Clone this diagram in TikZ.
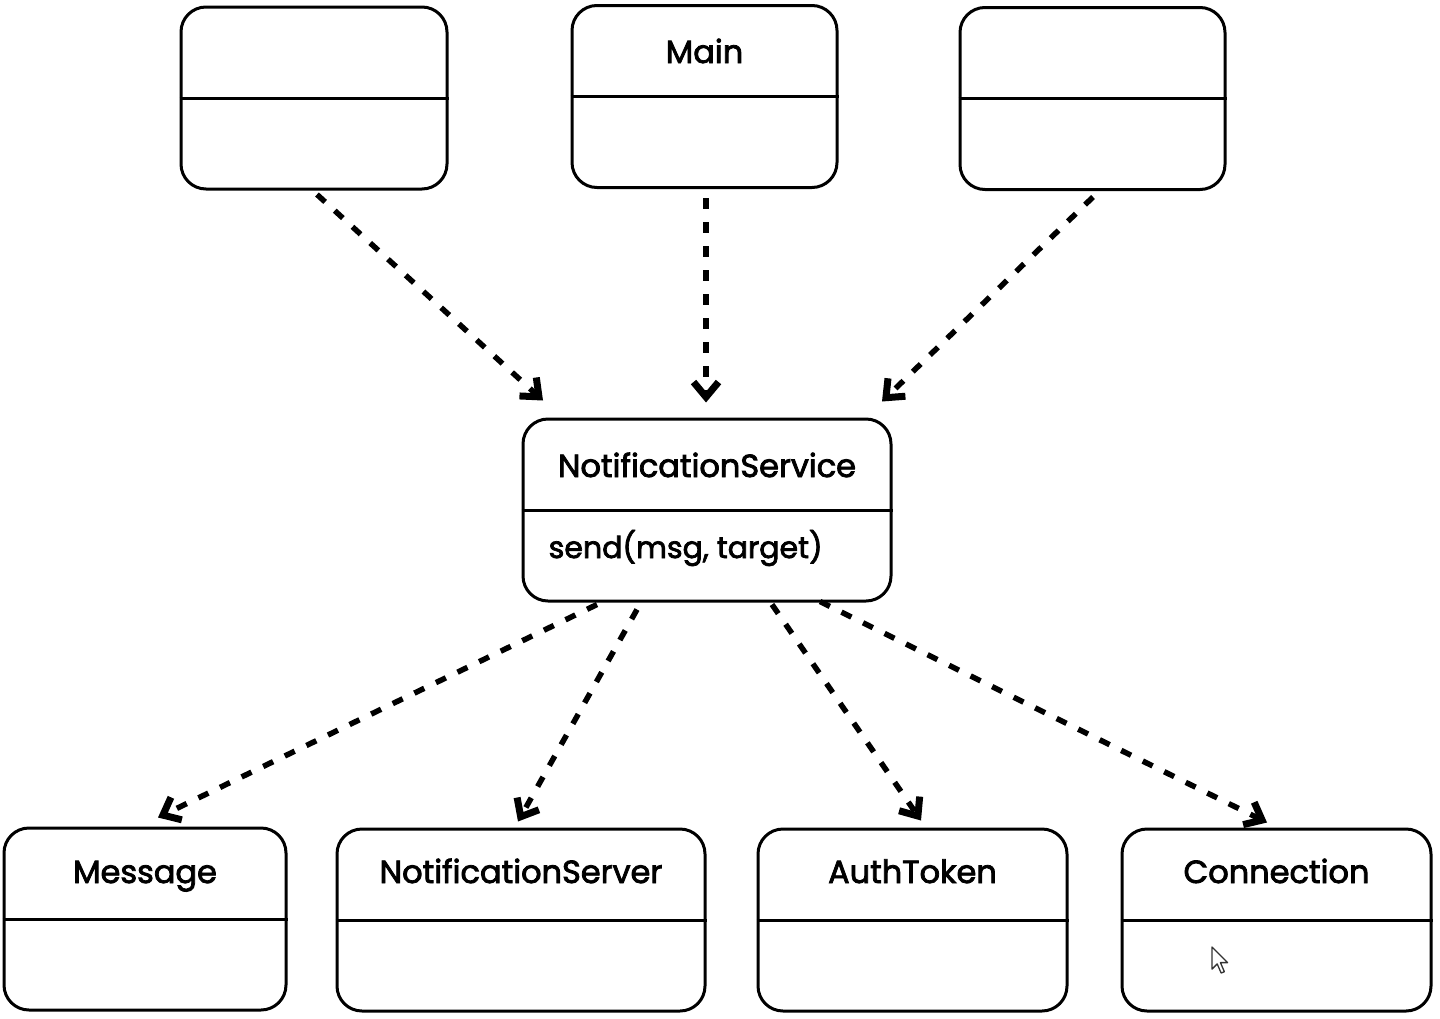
\documentclass[tikz,border=0pt]{standalone}
\usepackage{fontspec}
\setmainfont{Poppins}[UprightFeatures={FakeBold=2.5}]
\usetikzlibrary{arrows.meta,calc}
\begin{document}
\begin{tikzpicture}[x=1pt,y=-1pt,
  cls/.style={draw, line width=3pt, rounded corners=25pt, inner sep=0pt, minimum height=182pt},
  ttl/.style={font=\fontsize{32}{38}\selectfont, inner sep=0pt, anchor=base},
  mth/.style={font=\fontsize{30}{36}\selectfont, inner sep=0pt, anchor=base west},
  dep/.style={line width=5.5pt, dash pattern=on 11pt off 13pt,
    -{Straight Barb[length=15pt,width=25pt,line width=7pt]}},
  divider/.style={line width=3pt}
]
\useasboundingbox (0,0) rectangle (1440,1018);

% boxes
\node[cls, minimum width=266pt] (tl) at (314,98) {};
\node[cls, minimum width=265pt] (mn) at (704.5,96.5) {};
\node[cls, minimum width=265pt] (tr) at (1092.5,98.5) {};
\node[cls, minimum width=368pt] (ns) at (707,510) {};
\node[cls, minimum width=282pt] (msg) at (145,919) {};
\node[cls, minimum width=368pt] (srv) at (521,920) {};
\node[cls, minimum width=309pt] (tok) at (912.5,920) {};
\node[cls, minimum width=309pt] (con) at (1276.5,920) {};

% dividers
\foreach \n in {tl,mn,tr,ns,msg,srv,tok,con}{
  \draw[divider] (\n.west) -- (\n.east);
}

% titles
\node[ttl] (mnt) at ($(mn.center)+(0,-33.5)$) {Main};
\node[ttl] (nst) at ($(ns.center)+(0,-33)$) {NotificationService};
\node[mth] (nsm) at ($(ns.west)+(27,48)$) {send(msg, target)};
\node[ttl] (msgt) at ($(msg.center)+(0,-36)$) {Message};
\node[ttl] (srvt) at ($(srv.center)+(0,-37)$) {NotificationServer};
\node[ttl] (tokt) at ($(tok.center)+(0,-37)$) {AuthToken};
\node[ttl] (cont) at ($(con.center)+(0,-37)$) {Connection};

% dependencies
\draw[dep] ([xshift=3pt,yshift=-4pt]tl.south) -- ([xshift=-164pt,yshift=17pt]ns.north);
\draw[dep] ([xshift=1.5pt,yshift=-9pt]mn.south) -- ([xshift=-1pt,yshift=15pt]ns.north);
\draw[dep] ([xshift=0.5pt,yshift=-6pt]tr.south) -- ([xshift=175pt,yshift=16pt]ns.north);
\draw[dep] ([xshift=-110pt,yshift=-2pt]ns.south) -- ([xshift=13pt,yshift=9pt]msg.north);
\draw[dep] ([xshift=-70pt,yshift=-7pt]ns.south) -- ([xshift=-3pt,yshift=6pt]srv.north);
\draw[dep] ([xshift=65pt,yshift=-2pt]ns.south) -- ([xshift=8.5pt,yshift=7pt]tok.north);
\draw[dep] ([xshift=113pt,yshift=1pt]ns.south) -- ([xshift=-9.5pt,yshift=5pt]con.north);

% mouse pointer
\coordinate (cur) at ($(con.center)+(-64.5,27)$);
\draw[fill=white, draw=black!80, line width=1.3pt, line join=round, shift={(cur)}, scale=1.3]
  (0,0) -- (0,17) -- (4,13) -- (7,20) -- (9.5,19) -- (6.5,12) -- (12,12) -- cycle;
\end{tikzpicture}
\end{document}
